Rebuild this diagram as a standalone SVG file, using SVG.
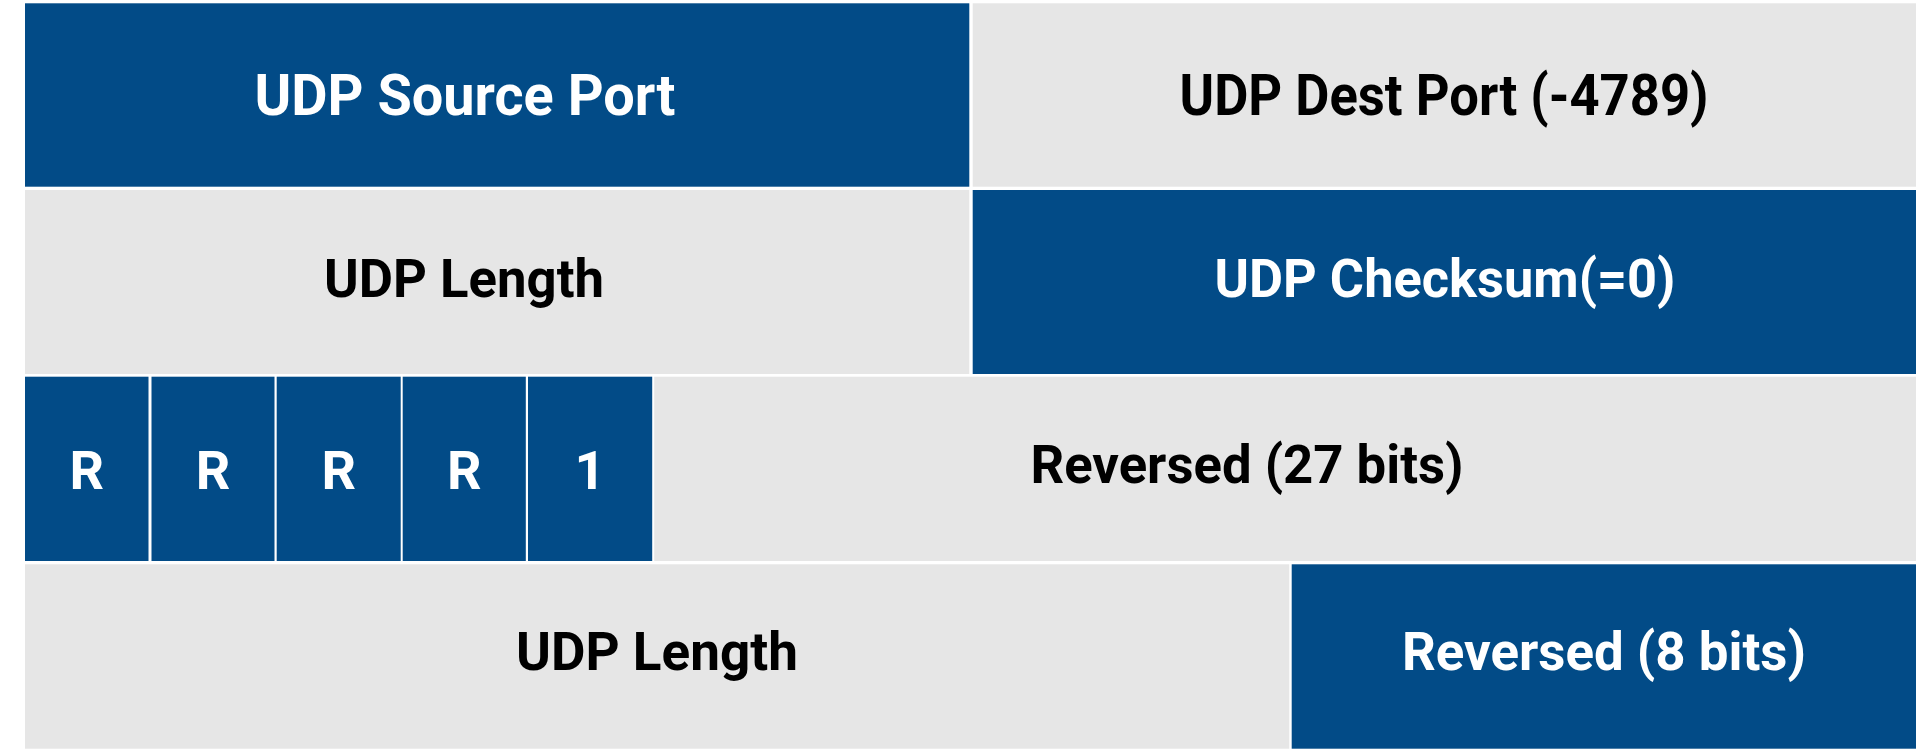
<svg xmlns="http://www.w3.org/2000/svg" width="1920" height="752" viewBox="0 0 1920 752">
<style>
.b{fill:#024B87}
.g{fill:#E6E6E6}
.t{font-family:Roboto,"Liberation Sans",sans-serif;font-weight:700;font-size:54px;text-anchor:middle}
.w{fill:#FFFFFF}
.k{fill:#000000}
</style>
<rect x="0" y="0" width="1920" height="752" fill="#FFFFFF"/>
<g id="udp-source-port"><rect class="b" x="25" y="3.3" width="944.3" height="183.4"/><text class="t w" x="465" y="115" style="font-size:58px" textLength="421" lengthAdjust="spacingAndGlyphs">UDP Source Port</text></g>
<g id="udp-dest-port"><rect class="g" x="972.7" y="3.3" width="943.3" height="183.4"/><text class="t k" x="1444" y="115" style="font-size:58px" textLength="529" lengthAdjust="spacingAndGlyphs">UDP Dest Port (-4789)</text></g>
<g id="udp-length-1"><rect class="g" x="25" y="190" width="944.3" height="184"/><text class="t k" x="464" y="297" textLength="280" lengthAdjust="spacingAndGlyphs">UDP Length</text></g>
<g id="udp-checksum"><rect class="b" x="972.7" y="190" width="943.3" height="184"/><text class="t w" x="1445" y="297" textLength="461" lengthAdjust="spacingAndGlyphs">UDP Checksum(=0)</text></g>
<g id="r1"><rect class="b" x="25" y="376.7" width="123.5" height="184.3"/><text class="t w" x="86.7" y="489">R</text></g>
<g id="r2"><rect class="b" x="151.5" y="376.7" width="123" height="184.3"/><text class="t w" x="213" y="489">R</text></g>
<g id="r3"><rect class="b" x="276.7" y="376.7" width="124" height="184.3"/><text class="t w" x="338.7" y="489">R</text></g>
<g id="r4"><rect class="b" x="402.7" y="376.7" width="123.1" height="184.3"/><text class="t w" x="464.2" y="489">R</text></g>
<g id="flag1"><rect class="b" x="528" y="376.7" width="124.2" height="184.3"/><text class="t w" x="590" y="489">1</text></g>
<g id="reversed-27"><rect class="g" x="654.2" y="376.7" width="1261.8" height="184.3"/><text class="t k" x="1247" y="483" textLength="433" lengthAdjust="spacingAndGlyphs">Reversed (27 bits)</text></g>
<g id="udp-length-2"><rect class="g" x="25" y="564.3" width="1264.3" height="184.4"/><text class="t k" x="657" y="670" textLength="282" lengthAdjust="spacingAndGlyphs">UDP Length</text></g>
<g id="reversed-8"><rect class="b" x="1291.7" y="564.3" width="624.3" height="184.4"/><text class="t w" x="1604" y="670" textLength="404" lengthAdjust="spacingAndGlyphs">Reversed (8 bits)</text></g>
<g id="connectors"></g>
</svg>
